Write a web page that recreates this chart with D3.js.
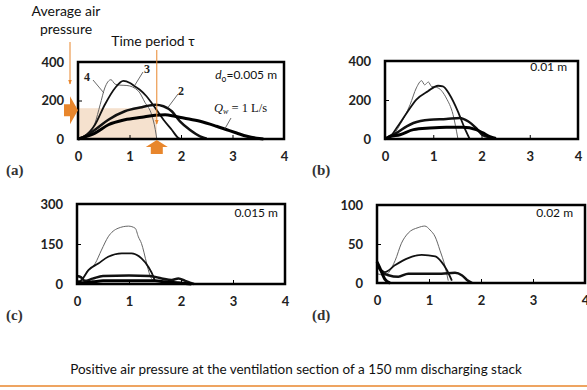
<!DOCTYPE html>
<html>
<head>
<meta charset="utf-8">
<script src="https://cdn.jsdelivr.net/npm/d3@7"></script>
<style>
  body { margin: 0; background: #fff; }
  svg { display: block; }
</style>
</head>
<body>
<svg id="chart" width="587" height="390"></svg>
<script>
// time (s) vs positive air pressure (Pa)
// series q1..q4 = Qw 1..4 L/s
const xTicks = [0, 1, 2, 3, 4];

// (a) do = 0.005 m
const a_q1 = [[0,0],[0.1,8],[0.33,31],[0.59,74],[0.91,100],[1.24,113],[1.5,123],[1.69,126],[1.88,118],[2.05,109],[2.37,92],[2.69,66],[2.89,48],[3.08,31],[3.28,14],[3.47,4],[3.6,0]];
const a_q2 = [[0,0],[0.1,10],[0.33,48],[0.59,100],[0.91,144],[1.24,165],[1.5,178],[1.66,170],[1.82,144],[1.98,92],[2.17,48],[2.37,14],[2.5,2]];
const a_q3 = [[0,0],[0.1,10],[0.33,74],[0.52,178],[0.72,265],[0.88,302],[1.01,291],[1.1,274],[1.2,256],[1.33,222],[1.5,161],[1.66,100],[1.82,48],[1.95,5],[2.0,0]];
const a_q4 = [[0,0],[0.1,8],[0.25,40],[0.33,83],[0.43,178],[0.52,265],[0.64,308],[0.72,285],[0.8,280],[0.95,278],[1.17,250],[1.3,190],[1.43,126],[1.5,50],[1.53,0]];
const a_yTicks = [0, 200, 400];

// (b) do = 0.01 m
const b_q1 = [[0,0],[0.1,12],[0.31,22],[0.59,48],[0.93,56],[1.27,60],[1.61,60],[1.89,48],[2.03,31],[2.16,14],[2.3,3]];
const b_q2 = [[0,0],[0.1,15],[0.24,31],[0.45,65],[0.59,82],[0.93,99],[1.27,103],[1.55,108],[1.72,91],[1.89,56],[2.03,19],[2.16,9],[2.27,2]];
const b_q3 = [[0,0],[0.1,10],[0.24,56],[0.45,133],[0.65,202],[0.89,245],[1.1,273],[1.2,270],[1.34,227],[1.51,142],[1.65,56],[1.75,3]];
const b_q4 = [[0,0],[0.15,15],[0.31,73],[0.52,176],[0.65,262],[0.76,299],[0.82,278],[0.9,292],[0.96,270],[1.1,262],[1.27,210],[1.41,125],[1.51,3]];
const b_yTicks = [0, 200, 400];

// (c) do = 0.015 m
const c_q1 = [[0,10],[0.1,5],[0.3,8],[0.5,12],[1.0,12],[1.5,12],[1.7,8],[2.0,4],[2.2,0]];
const c_q2 = [[0,30],[0.08,25],[0.15,12],[0.3,20],[0.5,30],[1.0,32],[1.4,30],[1.63,21],[1.82,15],[1.95,21],[2.08,12],[2.17,5],[2.25,0]];
const c_q3 = [[0,5],[0.09,15],[0.22,52],[0.41,77],[0.6,102],[0.86,115],[1.05,115],[1.24,96],[1.37,65],[1.47,27],[1.5,8]];
const c_q4 = [[0,5],[0.09,15],[0.19,46],[0.35,77],[0.47,127],[0.6,177],[0.79,209],[0.99,217],[1.12,209],[1.18,177],[1.24,152],[1.34,77],[1.4,34],[1.47,12]];
const c_yTicks = [0, 150, 300];

// (d) do = 0.02 m
const d_q1 = [[0,27],[0.05,20],[0.15,5],[0.25,0]];
const d_q2 = [[0,23],[0.1,14],[0.22,10],[0.41,8],[0.6,12],[0.92,12],[1.24,12],[1.5,13],[1.63,10],[1.73,4],[1.83,0]];
const d_q3 = [[0,21],[0.06,18],[0.15,14],[0.35,23],[0.6,32],[0.86,36],[1.12,34],[1.24,27],[1.34,17],[1.44,3]];
const d_q4 = [[0,12],[0.15,10],[0.35,29],[0.47,51],[0.6,64],[0.79,71],[0.92,73],[1.02,68],[1.12,59],[1.21,42],[1.31,21],[1.37,3]];
const d_yTicks = [0, 50, 100];

// average pressure and time period marked on (a)
const avgPressure = 160;
const timePeriod = 1.53;

const seriesStyle = [
  { w: 3,   c: "#000" },   // Qw = 1
  { w: 2.5, c: "#111" },   // 2
  { w: 1.8, c: "#111" },   // 3
  { w: 1,   c: "#666" }    // 4
];

const panels = [
  { id: "a", x0: 78,  x1: 284, y0: 62,  y1: 139, ymax: 400, yt: a_yTicks, data: [a_q1, a_q2, a_q3, a_q4], size: "0.005 m", sx: 277, sy: 79, lx: 6,   ly: 175 },
  { id: "b", x0: 385, x1: 578, y0: 61,  y1: 139, ymax: 400, yt: b_yTicks, data: [b_q1, b_q2, b_q3, b_q4], size: "0.01 m",  sx: 567, sy: 71, lx: 312, ly: 175 },
  { id: "c", x0: 77,  x1: 285, y0: 204, y1: 284, ymax: 300, yt: c_yTicks, data: [c_q1, c_q2, c_q3, c_q4], size: "0.015 m", sx: 278, sy: 217, lx: 6,  ly: 320 },
  { id: "d", x0: 377, x1: 585, y0: 205, y1: 283, ymax: 100, yt: d_yTicks, data: [d_q1, d_q2, d_q3, d_q4], size: "0.02 m",  sx: 573, sy: 217, lx: 312, ly: 320 }
];

const orange = "#E8862C";
const svg = d3.select("#chart");

svg.append("defs").append("marker")
  .attr("id", "ah")
  .attr("viewBox", "0 0 10 10")
  .attr("refX", 9).attr("refY", 5)
  .attr("markerWidth", 5).attr("markerHeight", 5)
  .attr("orient", "auto")
  .append("path").attr("d", "M0,1L10,5L0,9Z").attr("fill", orange);

panels.forEach(p => {
  const x = d3.scaleLinear().domain([0, 4]).range([p.x0, p.x1]);
  const y = d3.scaleLinear().domain([0, p.ymax]).range([p.y1, p.y0]);
  const g = svg.append("g");
  p.xs = x; p.ys = y; p.g = g;

  if (p.id === "a") {
    // shaded average pressure * time area
    g.append("rect")
      .attr("x", x(0)).attr("y", y(avgPressure))
      .attr("width", x(timePeriod) - x(0)).attr("height", y(0) - y(avgPressure))
      .attr("fill", "#f3dcc6").attr("opacity", 0.85);
  }

  const line = d3.line().x(d => x(d[0])).y(d => y(d[1])).curve(d3.curveMonotoneX);
  // draw thin ones last so they show on top
  [3, 2, 1, 0].forEach(i => {
    g.append("path")
      .datum(p.data[i])
      .attr("d", line)
      .attr("fill", "none")
      .attr("stroke", seriesStyle[i].c)
      .attr("stroke-width", seriesStyle[i].w)
      .attr("stroke-linejoin", "round");
  });

  const xa = g.append("g").attr("transform", `translate(0,${p.y1})`)
    .call(d3.axisBottom(x).tickValues(xTicks).tickSize(-4).tickPadding(13).tickFormat(d3.format("d")));
  const ya = g.append("g").attr("transform", `translate(${p.x0},0)`)
    .call(d3.axisLeft(y).tickValues(p.yt).tickSize(-4).tickPadding(14));
  [xa, ya].forEach(a => {
    a.select(".domain").remove();
    a.selectAll("line").attr("stroke", "#000").attr("stroke-width", 1);
    a.selectAll("text").attr("font-family", "Lato, sans-serif").attr("font-weight", "bold")
      .attr("font-size", 13).attr("fill", "#222");
  });

  g.append("rect")
    .attr("x", p.x0).attr("y", p.y0)
    .attr("width", p.x1 - p.x0).attr("height", p.y1 - p.y0)
    .attr("fill", "none").attr("stroke", "#000").attr("stroke-width", 2.5);

  // size label
  const st = g.append("text")
    .attr("x", p.sx).attr("y", p.sy)
    .attr("text-anchor", "end")
    .attr("font-family", "Lato, sans-serif").attr("font-size", 12).attr("fill", "#111");
  if (p.id === "a") {
    st.append("tspan").attr("font-style", "italic").text("d");
    st.append("tspan").attr("font-size", 8.5).attr("dy", 3).text("o");
    st.append("tspan").attr("dy", -3).text("=" + p.size);
  } else {
    st.text(p.size);
  }

  // panel letter
  g.append("text")
    .attr("x", p.lx).attr("y", p.ly)
    .attr("font-family", "'Liberation Serif', serif").attr("font-size", 15).attr("font-weight", "bold").attr("fill", "#333")
    .text(`(${p.id})`);
});

// annotations on (a)
const pa = panels[0];
const ga = pa.g;
const ax = pa.xs, ay = pa.ys;

function leader(x1, y1, x2, y2) {
  ga.append("line").attr("x1", x1).attr("y1", y1).attr("x2", x2).attr("y2", y2)
    .attr("stroke", "#444").attr("stroke-width", 0.8);
}
function serifLabel(x0, y0, t) {
  ga.append("text").attr("x", x0).attr("y", y0)
    .attr("font-family", "'Liberation Serif', serif").attr("font-size", 12).attr("font-weight", "bold")
    .attr("fill", "#222").text(t);
}
// curve numbers: point at a value on each curve
leader(93, 80, ax(0.5), ay(240));
serifLabel(84, 81, "4");
leader(143, 72, ax(1.1), ay(278));
serifLabel(144, 73, "3");
leader(178, 94, ax(1.75), ay(165));
serifLabel(178, 95, "2");
leader(231, 118, ax(2.85), ay(52));

const qt = ga.append("text").attr("x", 214).attr("y", 112)
  .attr("font-family", "'Liberation Serif', serif").attr("font-size", 12.5).attr("fill", "#111");
qt.append("tspan").attr("font-style", "italic").text("Q");
qt.append("tspan").attr("font-size", 8).attr("dy", 2).attr("font-style", "italic").text("w");
qt.append("tspan").attr("dy", -2).text(" = 1 L/s");

// orange pointers
ga.append("line").attr("x1", 70).attr("y1", 42).attr("x2", 70).attr("y2", 84)
  .attr("stroke", orange).attr("stroke-width", 1).attr("marker-end", "url(#ah)");
ga.append("line").attr("x1", ax(timePeriod)).attr("y1", 50).attr("x2", ax(timePeriod)).attr("y2", 124)
  .attr("stroke", orange).attr("stroke-width", 1).attr("marker-end", "url(#ah)");

// block arrow at the average pressure level, pointing right at the y axis
const bx = ax(0), by = ay(avgPressure) + 2;
ga.append("path")
  .attr("d", `M${bx - 14},${by - 6}L${bx - 8},${by - 6}L${bx - 8},${by - 14}L${bx},${by}L${bx - 8},${by + 14}L${bx - 8},${by + 6}L${bx - 14},${by + 6}Z`)
  .attr("fill", orange);
// block arrow under the time period, pointing up
const tx = ax(timePeriod), ty = ay(0) + 1;
ga.append("path")
  .attr("d", `M${tx},${ty}L${tx + 11},${ty + 7}L${tx + 6},${ty + 7}L${tx + 6},${ty + 14}L${tx - 6},${ty + 14}L${tx - 6},${ty + 7}L${tx - 11},${ty + 7}Z`)
  .attr("fill", orange);

const annFont = "Lato, sans-serif";
svg.append("text").attr("x", 66).attr("y", 16).attr("text-anchor", "middle")
  .attr("font-family", annFont).attr("font-size", 14).attr("fill", "#111").text("Average air");
svg.append("text").attr("x", 66).attr("y", 34).attr("text-anchor", "middle")
  .attr("font-family", annFont).attr("font-size", 14).attr("fill", "#111").text("pressure");
svg.append("text").attr("x", 153).attr("y", 46).attr("text-anchor", "middle")
  .attr("font-family", annFont).attr("font-size", 14).attr("fill", "#111").text("Time period τ");

// caption and rule
svg.append("text").attr("x", 296).attr("y", 374).attr("text-anchor", "middle")
  .attr("font-family", annFont).attr("font-size", 13.5).attr("fill", "#111")
  .text("Positive air pressure at the ventilation section of a 150 mm discharging stack");
svg.append("line").attr("x1", 0).attr("x2", 587).attr("y1", 386).attr("y2", 386)
  .attr("stroke", orange).attr("stroke-width", 1.5);
</script>
</body>
</html>
